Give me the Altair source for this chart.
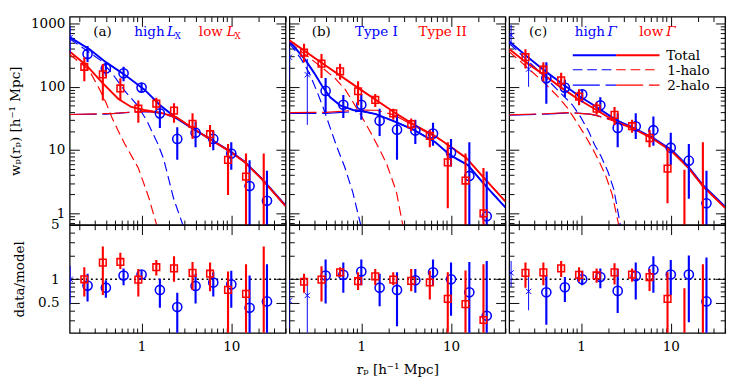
import altair as alt
import pandas as pd

BLUE = "#0000ff"
RED = "#ff0000"
FONT = "DejaVu Serif"

# ---------------- axes ----------------
X_DOMAIN = [0.158, 40.3]
TOP_DOMAIN = [0.657, 1278]
BOT_DOMAIN = [0.205, 5.0]
X_MAJOR = [1, 10]
X_MINOR = [0.2, 0.3, 0.4, 0.5, 0.6, 0.7, 0.8, 0.9, 2, 3, 4, 5, 6, 7, 8, 9, 20, 30, 40]
TOP_MAJOR = [1, 10, 100, 1000]
TOP_MINOR = [0.7, 0.8, 0.9, 2, 3, 4, 5, 6, 7, 8, 9, 20, 30, 40, 50, 60, 70, 80, 90,
             200, 300, 400, 500, 600, 700, 800, 900]
BOT_MAJOR = [0.5, 1, 5]
BOT_MINOR = [0.3, 0.4, 0.6, 0.7, 0.8, 0.9, 2, 3, 4]

# ================= panel (a): high Lx (blue) / low Lx (red) =================
A_BX_R = [0.16]
A_BX_W = [600]
A_BX_LO = [330]
A_BX_HI = [910]
A_BX_Q = [1.0]
A_BX_QLO = [0.48]
A_BX_QHI = [1.49]

A_B_R = [0.25, 0.4, 0.63, 1.0, 1.6, 2.5, 4.0, 6.3, 10, 16, 25]
A_B_W = [330, 195, 163, 97, 38, 15, 18.8, 15, 8.8, 2.7, 1.58]
A_B_LO = [246, 146, 122, 83, 22.4, 7.0, 11.1, 9.9, 4.9, 0.1, 0.1]
A_B_HI = [442, 246, 207, 115, 51, 22.9, 28, 20, 13.3, 6.9, 4.7]
A_B_Q = [0.83, 0.78, 1.12, 1.15, 0.73, 0.44, 0.82, 0.91, 0.86, 0.43, 0.52]
A_B_QLO = [0.52, 0.58, 0.84, 1.02, 0.43, 0.1, 0.49, 0.6, 0.43, 0.1, 0.1]
A_B_QHI = [1.18, 0.97, 1.38, 1.29, 1.02, 0.67, 1.18, 1.23, 1.29, 1.12, 1.56]

A_R_R = [0.23, 0.37, 0.58, 0.92, 1.46, 2.3, 3.7, 5.8, 9.2, 14.6, 23]
A_R_W = [207, 157, 94, 45, 54, 42, 26, 17.8, 7.0, 3.8, None]
A_R_LO = [122, 60.5, 60.5, 27, 43, 27, 15, 11.2, 1.95, 0.1, 0.1]
A_R_HI = [293, 229, 136, 60.5, 67, 55, 38, 25, 12.5, 8.8, 8.8]
A_R_Q = [1.0, 1.64, 1.67, 0.99, 1.43, 1.38, 1.21, 1.18, 0.73, 0.65, None]
A_R_QLO = [0.6, 0.63, 1.36, 0.6, 1.12, 0.93, 0.73, 0.7, 0.1, 0.1, 0.1]
A_R_QHI = [1.43, 2.64, 2.19, 1.36, 1.77, 1.98, 1.67, 1.64, 1.26, 1.56, 2.64]

A_B_TOT_R = [0.158, 0.263, 0.4, 0.676, 1.07, 1.61, 2.44, 3.83, 6.3, 10, 14, 22, 40.3]
A_B_TOT_W = [610, 390, 245, 148, 91, 51, 32, 21.2, 14, 9.3, 6.6, 3.5, 1.33]
A_R_TOT_R = [0.158, 0.242, 0.366, 0.552, 0.767, 1.07, 1.61, 2.44, 3.83, 6.3, 10, 14, 22, 40.3]
A_R_TOT_W = [360, 219, 115, 64, 48, 43, 39, 33, 21.5, 13.8, 9.2, 6.5, 3.45, 1.3]
A_B_1H_R = [0.158, 0.35, 0.47, 0.65, 0.9, 1.16, 1.5, 1.75, 2.28, 2.95]
A_B_1H_W = [575, 261, 163, 86, 51, 28, 13, 7.5, 1.7, 0.6]
A_R_1H_R = [0.158, 0.26, 0.34, 0.4, 0.47, 0.55, 0.65, 0.92, 1.2, 1.5]
A_R_1H_W = [323, 184, 91, 57, 32, 20, 12.5, 5.2, 1.8, 0.6]
A_B_2H_R = [0.158, 0.4, 0.83, 1.3, 1.8, 2.44, 3.83, 6.3, 10, 14, 22, 40.3]
A_B_2H_W = [36.5, 37, 40, 40, 37, 32, 21.2, 14, 9.3, 6.6, 3.5, 1.33]
A_R_2H_R = [0.158, 0.5, 1.0, 1.61, 2.44, 3.83, 6.3, 10, 14, 22, 40.3]
A_R_2H_W = [36.5, 38, 41, 39, 33, 21.5, 13.8, 9.2, 6.5, 3.45, 1.3]

# ================= panel (b): Type I (blue) / Type II (red) =================
B_BX_R = [0.158, 0.25]
B_BX_W = [293, 155]
B_BX_LO = [130, 25]
B_BX_HI = [416, 276]
B_BX_Q = [0.53, 0.62]
B_BX_QLO = [0.23, 0.1]
B_BX_QHI = [1.0, 1.0]

B_B_R = [0.4, 0.63, 1.0, 1.6, 2.5, 4.0, 6.3, 10, 16, 25]
B_B_W = [86, 52, 52, 29, 21, 20.4, 18.2, 9.1, 3.9, 0.9]
B_B_LO = [40, 32, 30, 16.7, 7.0, 12.5, 11.7, 5.5, 0.1, 0.1]
B_B_HI = [137, 74, 77, 45, 36, 30, 27, 15, 13.3, 4.6]
B_B_Q = [1.12, 1.14, 1.26, 0.78, 0.73, 0.97, 1.23, 1.0, 0.68, 0.34]
B_B_QLO = [0.49, 0.67, 0.84, 0.45, 0.25, 0.67, 0.84, 0.34, 0.1, 0.1]
B_B_QHI = [1.8, 1.64, 1.8, 1.18, 1.23, 1.36, 1.8, 1.64, 1.67, 1.72]

B_R_R = [0.23, 0.36, 0.58, 0.92, 1.43, 2.27, 3.6, 5.8, 9.2, 14.5, 23]
B_R_W = [345, 232, 175, 85, 62, 38, 25.7, 16.7, 6.4, 3.3, 1.0]
B_R_LO = [245, 137, 129, 51, 48, 30, 20, 11.1, 1.2, 0.1, 0.1]
B_R_HI = [479, 330, 232, 122, 77, 45, 31.6, 21, 13.3, 8.8, 5.2]
B_R_Q = [0.93, 0.99, 1.23, 0.945, 1.09, 0.99, 0.955, 0.91, 0.56, 0.48, 0.3]
B_R_QLO = [0.67, 0.52, 1.07, 0.73, 0.84, 0.84, 0.7, 0.55, 0.1, 0.1, 0.1]
B_R_QHI = [1.18, 1.47, 1.43, 1.23, 1.36, 1.23, 1.36, 1.29, 1.23, 1.3, 1.56]

B_B_TOT_R = [0.158, 0.24, 0.3, 0.367, 0.45, 0.58, 0.81, 1.04, 1.455, 2.4, 3.8, 6.7, 9.8, 15.4, 23.4, 40.3]
B_B_TOT_W = [525, 261, 163, 102, 68, 51, 43, 41, 37, 28, 21, 13.3, 8.3, 5.8, 2.9, 1.24]
B_R_TOT_R = [0.158, 0.367, 0.92, 2.3, 3.8, 6.7, 10.2, 14.8, 23.4, 40.3]
B_R_TOT_W = [540, 235, 96, 40, 25.5, 16.5, 11, 7.5, 3.6, 1.55]
B_B_1H_R = [0.158, 0.213, 0.264, 0.324, 0.38, 0.45, 0.535, 0.65, 0.8, 1.0]
B_B_1H_W = [487, 276, 163, 81, 45, 22.4, 11.1, 5.5, 2.2, 0.6]
B_R_1H_R = [0.158, 0.3, 0.5, 0.66, 0.81, 1.09, 1.34, 1.65, 1.92, 2.46, 2.9]
B_R_1H_W = [500, 250, 140, 91, 57, 28, 16.5, 9.3, 6.0, 2.2, 0.65]
B_B_2H_R = [0.158, 0.4, 1.0, 1.455, 2.4, 3.8, 6.7, 9.8, 15.4, 23.4, 40.3]
B_B_2H_W = [38, 38, 41, 37, 28, 21, 13.3, 8.3, 5.8, 2.9, 1.24]
B_R_2H_R = [0.158, 0.4, 1.0, 1.5, 2.3, 3.8, 6.7, 10.2, 14.8, 23.4, 40.3]
B_R_2H_W = [39, 39.5, 43, 42.5, 36, 24.5, 16.3, 10.9, 7.4, 3.6, 1.55]

# ================= panel (c): high Gamma (blue) / low Gamma (red) =================
C_BX_R = [0.166, 0.26]
C_BX_W = [650, 190]
C_BX_LO = [480, 100]
C_BX_HI = [950, 290]
C_BX_Q = [1.21, 0.7]
C_BX_QLO = [0.8, 0.4]
C_BX_QHI = [1.72, 1.23]

C_B_R = [0.41, 0.66, 1.03, 1.64, 2.56, 4.07, 6.4, 10, 15.9, 25]
C_B_W = [137, 97, 76, 51, 22.4, 23.8, 20.6, 10.9, 6.8, 1.44]
C_B_LO = [54, 68, 57, 40, 11.1, 15, 11.7, 5.8, 1.7, 0.1]
C_B_HI = [245, 129, 91, 68, 38, 38, 34, 18.8, 12.5, 4.7]
C_B_Q = [0.68, 0.79, 1.0, 1.07, 0.71, 1.1, 1.33, 1.15, 1.15, 0.52]
C_B_QLO = [0.26, 0.51, 0.84, 0.77, 0.37, 0.55, 0.67, 0.63, 0.28, 0.1]
C_B_QHI = [1.12, 1.07, 1.29, 1.38, 1.36, 1.64, 1.98, 1.77, 2.02, 1.9]

C_R_R = [0.24, 0.38, 0.6, 0.95, 1.49, 2.36, 3.7, 5.8, 9.2, 14.2, 22.8]
C_R_W = [293, 186, 126, 70, 45, 36, 23.8, 15.5, 5.1, None, None]
C_R_LO = [195, 122, 91, 51, 36, 25, 18.8, 11.1, 1.44, 0.1, 0.1]
C_R_HI = [393, 245, 167, 91, 57, 48, 30, 21, 10.5, 4.9, 13.3]
C_R_Q = [1.21, 1.23, 1.38, 1.14, 1.12, 1.23, 1.15, 1.07, 0.56, None, None]
C_R_QLO = [0.78, 0.84, 1.07, 0.93, 0.9, 0.86, 0.93, 0.71, 0.1, 0.1, 0.1]
C_R_QHI = [1.64, 1.64, 1.72, 1.43, 1.38, 1.61, 1.38, 1.36, 1.23, 0.77, 1.56]

C_B_TOT_R = [0.158, 0.242, 0.365, 0.6, 0.94, 1.49, 2.44, 3.83, 6.25, 10.3, 15.6, 23, 40.3]
C_B_TOT_W = [520, 311, 195, 115, 72, 48, 30, 22.4, 15.8, 9.9, 5.5, 2.75, 1.28]
C_R_TOT_R = [0.158, 0.242, 0.365, 0.6, 0.94, 1.49, 2.44, 3.83, 6.25, 10.3, 15.6, 23, 40.3]
C_R_TOT_W = [395, 245, 163, 97, 63, 43, 28, 21.9, 15.2, 9.5, 5.3, 2.65, 1.22]
C_B_1H_R = [0.158, 0.365, 0.6, 0.8, 0.98, 1.21, 1.42, 1.67, 2.0, 2.32, 2.74]
C_B_1H_W = [485, 160, 78, 52, 34, 20, 12, 8, 4.5, 2.4, 0.65]
C_R_1H_R = [0.158, 0.365, 0.552, 0.707, 0.905, 1.11, 1.37, 1.6, 1.9, 2.22, 2.63]
C_R_1H_W = [360, 126, 70, 46, 27, 17, 10, 6.5, 3.8, 2.0, 0.65]
C_B_2H_R = [0.158, 0.4, 0.8, 1.26, 1.5, 2.44, 3.83, 6.25, 10.3, 15.6, 23, 40.3]
C_B_2H_W = [35.5, 37, 39, 37, 35, 29, 22, 15.7, 9.9, 5.5, 2.75, 1.28]
C_R_2H_R = [0.158, 0.4, 0.71, 1.26, 1.5, 2.44, 3.83, 6.25, 10.3, 15.6, 23, 40.3]
C_R_2H_W = [36, 37.5, 39, 37, 35, 28, 21.8, 15.2, 9.5, 5.3, 2.65, 1.22]

# ---------------- layout constants ----------------
PANEL_W = 224
TOP_H = 216
BOT_H = 112
DUMMY = pd.DataFrame({"ax": [1.0], "ay": [1.0]})

XS = alt.Scale(type="log", domain=X_DOMAIN)


def yscale(dom):
    return alt.Scale(type="log", domain=dom)


def curve(r, w, color, kind, ys):
    kw = dict(color=color, clip=True)
    if kind == "tot":
        kw.update(strokeWidth=2.0)
    elif kind == "1h":
        kw.update(strokeWidth=1.2, strokeDash=[10, 5])
    else:
        kw.update(strokeWidth=1.2, strokeDash=[28, 6])
    return alt.Chart(pd.DataFrame({"r": r, "w": w})).mark_line(**kw).encode(
        x=alt.X("r:Q", scale=XS, axis=None),
        y=alt.Y("w:Q", scale=ys, axis=None),
    )


def errbar(r, lo, hi, color, ys, width):
    return alt.Chart(pd.DataFrame({"r": r, "lo": lo, "hi": hi})).mark_rule(
        color=color, strokeWidth=width, clip=True
    ).encode(
        x=alt.X("r:Q", scale=XS, axis=None),
        y=alt.Y("lo:Q", scale=ys, axis=None),
        y2="hi:Q",
    )


def points(r, w, color, shape, size, ys, sw):
    return alt.Chart(pd.DataFrame({"r": r, "w": w})).mark_point(
        shape=shape, size=size, color=color, filled=False, opacity=1,
        strokeWidth=sw, clip=True
    ).encode(
        x=alt.X("r:Q", scale=XS, axis=None),
        y=alt.Y("w:Q", scale=ys, axis=None),
    )


XSHAPE = "M-1,-1L1,1M-1,1L1,-1"


def axis_layers(ydom, ymaj, ymin, xlabels, ylabels, ytitle=None, xtitle=None,
                ylabpad=5, ytitlepad=4):
    ys = yscale(ydom)
    common = dict(grid=False, domain=False, tickColor="black", tickWidth=1,
                  labelFont=FONT, labelFontSize=14, labelColor="black",
                  titleFont=FONT, titleFontSize=14, titleFontWeight="normal",
                  titleColor="black", format="~g")
    specs = [
        ("bottom", "left", X_MAJOR, ymaj, 10, True),
        ("bottom", "left", X_MINOR, ymin, 5, False),
        ("top", "right", X_MAJOR, ymaj, 10, False),
        ("top", "right", X_MINOR, ymin, 5, False),
    ]
    out = []
    for xo, yo, xv, yv, ts, main in specs:
        xa = alt.Axis(orient=xo, values=xv, tickSize=ts, offset=-ts,
                      labels=bool(main and xlabels),
                      title=(xtitle if main else None),
                      labelPadding=7, titlePadding=10, labelFlush=False, **common)
        ya = alt.Axis(orient=yo, values=yv, tickSize=ts, offset=-ts,
                      labels=bool(main and ylabels),
                      title=(ytitle if main else None),
                      labelPadding=ylabpad, titlePadding=ytitlepad, **common)
        out.append(alt.Chart(DUMMY).mark_point(opacity=0).encode(
            x=alt.X("ax:Q", scale=XS, axis=xa),
            y=alt.Y("ay:Q", scale=ys, axis=ya),
        ))
    return out


def text(t, x, y, color="black", size=14, style="normal", align="left"):
    return alt.Chart(DUMMY).mark_text(
        text=t, font=FONT, fontSize=size, fontStyle=style, color=color,
        align=align, baseline="alphabetic"
    ).encode(x=alt.value(x), y=alt.value(y))


def seg(x1, x2, y, color, kind):
    kw = dict(color=color)
    if kind == "tot":
        kw.update(strokeWidth=2.0)
    elif kind == "1h":
        kw.update(strokeWidth=1.2, strokeDash=[10, 5])
    else:
        kw.update(strokeWidth=1.2, strokeDash=[28, 6])
    return alt.Chart(DUMMY).mark_rule(**kw).encode(
        x=alt.value(x1), x2=alt.value(x2), y=alt.value(y))


def top_panel(curves, bx, blue, red, annotations, ylabels, ytitle=None):
    ys = yscale(TOP_DOMAIN)
    layers = []
    for (r, w, color, kind) in curves:
        layers.append(curve(r, w, color, kind, ys))
    bxr, bxw, bxlo, bxhi = bx
    layers.append(errbar(bxr, bxlo, bxhi, BLUE, ys, 1.0))
    layers.append(points(bxr, bxw, BLUE, XSHAPE, 30, ys, 1.0))
    br, bw, blo, bhi = blue
    layers.append(errbar(br, blo, bhi, BLUE, ys, 2.2))
    layers.append(points(br, bw, BLUE, "circle", 90, ys, 1.6))
    rr, rw, rlo, rhi = red
    layers.append(errbar(rr, rlo, rhi, RED, ys, 2.2))
    layers.append(points(rr, rw, RED, "square", 48, ys, 1.6))
    layers += annotations
    axes = axis_layers(TOP_DOMAIN, TOP_MAJOR, TOP_MINOR, False, ylabels,
                       ytitle=ytitle, ylabpad=5, ytitlepad=8)
    return alt.layer(*axes, *layers).resolve_axis(
        x="independent", y="independent").properties(width=PANEL_W, height=TOP_H)


def bot_panel(bx, blue, red, ylabels, ytitle=None, xtitle=None):
    ys = yscale(BOT_DOMAIN)
    layers = [alt.Chart(pd.DataFrame({"one": [1.0]})).mark_rule(
        color="black", strokeWidth=1.5, strokeDash=[2, 3]).encode(
        y=alt.Y("one:Q", scale=ys, axis=None))]
    bxr, bq, bqlo, bqhi = bx
    layers.append(errbar(bxr, bqlo, bqhi, BLUE, ys, 1.0))
    layers.append(points(bxr, bq, BLUE, XSHAPE, 30, ys, 1.0))
    br, bq2, blo, bhi = blue
    layers.append(errbar(br, blo, bhi, BLUE, ys, 2.2))
    layers.append(points(br, bq2, BLUE, "circle", 90, ys, 1.6))
    rr, rq, rlo, rhi = red
    layers.append(errbar(rr, rlo, rhi, RED, ys, 2.2))
    layers.append(points(rr, rq, RED, "square", 48, ys, 1.6))
    axes = axis_layers(BOT_DOMAIN, BOT_MAJOR, BOT_MINOR, True, ylabels,
                       ytitle=ytitle, xtitle=xtitle, ylabpad=11, ytitlepad=12)
    return alt.layer(*axes, *layers).resolve_axis(
        x="independent", y="independent").properties(width=PANEL_W, height=BOT_H)


# ---------------- panel (a) ----------------
ann_a = [
    text("(a)", 34, 20, align="center"),
    text("high", 67, 20, BLUE),
    text("L", 101, 20, BLUE, style="italic"),
    text("X", 109, 23, BLUE, size=9),
    text("low", 134, 20, RED),
    text("L", 163, 20, RED, style="italic"),
    text("X", 171, 23, RED, size=9),
]
top_a = top_panel(
    [(A_B_2H_R, A_B_2H_W, BLUE, "2h"), (A_R_2H_R, A_R_2H_W, RED, "2h"),
     (A_B_1H_R, A_B_1H_W, BLUE, "1h"), (A_R_1H_R, A_R_1H_W, RED, "1h"),
     (A_B_TOT_R, A_B_TOT_W, BLUE, "tot"), (A_R_TOT_R, A_R_TOT_W, RED, "tot")],
    (A_BX_R, A_BX_W, A_BX_LO, A_BX_HI),
    (A_B_R, A_B_W, A_B_LO, A_B_HI),
    (A_R_R, A_R_W, A_R_LO, A_R_HI),
    ann_a, True, ytitle="wₚ(rₚ) [h⁻¹ Mpc]")
bot_a = bot_panel((A_BX_R, A_BX_Q, A_BX_QLO, A_BX_QHI),
                  (A_B_R, A_B_Q, A_B_QLO, A_B_QHI),
                  (A_R_R, A_R_Q, A_R_QLO, A_R_QHI), True, ytitle="data/model")

# ---------------- panel (b) ----------------
ann_b = [
    text("(b)", 33, 20, align="center"),
    text("Type I", 68, 20, BLUE),
    text("Type II", 134, 20, RED),
]
top_b = top_panel(
    [(B_B_2H_R, B_B_2H_W, BLUE, "2h"), (B_R_2H_R, B_R_2H_W, RED, "2h"),
     (B_B_1H_R, B_B_1H_W, BLUE, "1h"), (B_R_1H_R, B_R_1H_W, RED, "1h"),
     (B_B_TOT_R, B_B_TOT_W, BLUE, "tot"), (B_R_TOT_R, B_R_TOT_W, RED, "tot")],
    (B_BX_R, B_BX_W, B_BX_LO, B_BX_HI),
    (B_B_R, B_B_W, B_B_LO, B_B_HI),
    (B_R_R, B_R_W, B_R_LO, B_R_HI),
    ann_b, False)
bot_b = bot_panel((B_BX_R, B_BX_Q, B_BX_QLO, B_BX_QHI),
                  (B_B_R, B_B_Q, B_B_QLO, B_B_QHI),
                  (B_R_R, B_R_Q, B_R_QLO, B_R_QHI), False,
                  xtitle="rₚ [h⁻¹ Mpc]")

# ---------------- panel (c) ----------------
ann_c = [
    text("(c)", 30, 20, align="center"),
    text("high", 68, 20, BLUE),
    text("Γ", 102, 20, BLUE, style="italic"),
    text("low", 135, 20, RED),
    text("Γ", 163, 20, RED, style="italic"),
    seg(66, 111, 40, BLUE, "tot"), seg(111, 156, 40, RED, "tot"),
    seg(66, 111, 55, BLUE, "1h"), seg(111, 156, 55, RED, "1h"),
    seg(66, 111, 71, BLUE, "2h"), seg(111, 156, 71, RED, "2h"),
    text("Total", 163, 45),
    text("1-halo", 164, 60),
    text("2-halo", 164, 76),
]
top_c = top_panel(
    [(C_B_2H_R, C_B_2H_W, BLUE, "2h"), (C_R_2H_R, C_R_2H_W, RED, "2h"),
     (C_B_1H_R, C_B_1H_W, BLUE, "1h"), (C_R_1H_R, C_R_1H_W, RED, "1h"),
     (C_B_TOT_R, C_B_TOT_W, BLUE, "tot"), (C_R_TOT_R, C_R_TOT_W, RED, "tot")],
    (C_BX_R, C_BX_W, C_BX_LO, C_BX_HI),
    (C_B_R, C_B_W, C_B_LO, C_B_HI),
    (C_R_R, C_R_W, C_R_LO, C_R_HI),
    ann_c, False)
bot_c = bot_panel((C_BX_R, C_BX_Q, C_BX_QLO, C_BX_QHI),
                  (C_B_R, C_B_Q, C_B_QLO, C_B_QHI),
                  (C_R_R, C_R_Q, C_R_QLO, C_R_QHI), False)

col_a = alt.vconcat(top_a, bot_a, spacing=0, bounds="flush")
col_b = alt.vconcat(top_b, bot_b, spacing=0, bounds="flush")
col_c = alt.vconcat(top_c, bot_c, spacing=0, bounds="flush")

chart = alt.hconcat(col_a, col_b, col_c, spacing=0).properties(
    padding=0, background="white"
).configure_view(stroke="black", strokeWidth=1.3)

chart.save("out.html", embed_options={"renderer": "svg", "actions": False})
